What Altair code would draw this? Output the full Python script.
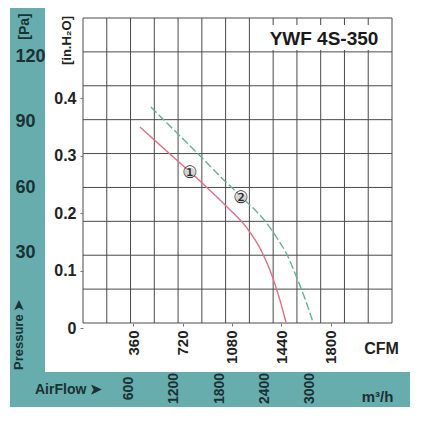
import altair as alt
import pandas as pd

# ---------------- data ----------------
cfm_ticks = [360, 720, 1080, 1440, 1800]
inh2o_ticks = [0, 0.1, 0.2, 0.3, 0.4]
pa_ticks = [30, 60, 90, 120]
m3h_ticks = [600, 1200, 1800, 2400, 3000]

curve1_cfm = [409, 628, 847, 1044, 1190, 1300, 1373, 1424, 1475]
curve1_inh2o = [0.350, 0.303, 0.256, 0.211, 0.174, 0.132, 0.091, 0.054, 0.010]
curve2_cfm = [489, 665, 847, 1008, 1191, 1323, 1409, 1490, 1548, 1614, 1672]
curve2_inh2o = [0.385, 0.343, 0.300, 0.261, 0.219, 0.186, 0.157, 0.124, 0.091, 0.051, 0.010]

label_text = ["①", "②"]
label_cfm = [774, 1146]
label_inh2o = [0.270, 0.226]

grid_cols = [0, 1, 2, 3, 4, 5, 6, 7, 8, 9, 10, 11, 12, 13]
grid_rows = [0, 1, 2, 3, 4, 5, 6, 7, 8, 9]

model_name = "YWF 4S-350"

# ---------------- styling ----------------
FONT = "Liberation Sans Narrow, Liberation Sans, Arial, sans-serif"
TEAL = "#67adae"
TEAL_TEXT = "#1b3133"
DARK = "#222222"
GRID = "#4a4a4a"
RED = "#de7088"
GREEN = "#66b392"

one = alt.Data(values=[{"k": 0}])

# ---------------- backgrounds ----------------
bg_teal = alt.Chart(one).mark_rect(fill=TEAL).encode(
    x=alt.value(-73), x2=alt.value(327), y=alt.value(-10), y2=alt.value(389)
)
bg_white = alt.Chart(one).mark_rect(fill="white").encode(
    x=alt.value(-38), x2=alt.value(327), y=alt.value(-10), y2=alt.value(354)
)

# ---------------- grid ----------------
gx_scale = alt.Scale(domain=[0, 13], nice=False, zero=False)
gy_scale = alt.Scale(domain=[-0.1475, 9], nice=False, zero=False)

vgrid = alt.Chart(pd.DataFrame({"gx": grid_cols})).transform_calculate(
    r0="0", r1="9"
).mark_rule(color=GRID, strokeWidth=1).encode(
    x=alt.X("gx:Q", scale=gx_scale, axis=None),
    y=alt.Y("r0:Q", scale=gy_scale, axis=None),
    y2="r1:Q",
)
hgrid = alt.Chart(pd.DataFrame({"gy": grid_rows})).transform_calculate(
    c0="0", c1="13"
).mark_rule(color=GRID, strokeWidth=1).encode(
    y=alt.Y("gy:Q", scale=gy_scale, axis=None),
    x=alt.X("c0:Q", scale=gx_scale, axis=None),
    x2="c1:Q",
)
grid = alt.layer(vgrid, hgrid)

title_box = alt.Chart(one).mark_rect(fill="white").encode(
    x=alt.value(179), x2=alt.value(308), y=alt.value(7), y2=alt.value(32)
)

# ---------------- curves ----------------
curves_df = pd.concat(
    [
        pd.DataFrame({"cfm": curve1_cfm, "inh2o": curve1_inh2o, "series": "1"}),
        pd.DataFrame({"cfm": curve2_cfm, "inh2o": curve2_inh2o, "series": "2"}),
    ],
    ignore_index=True,
)

x_cfm = alt.Scale(domain=[-7, 2249], nice=False, zero=False)
y_in = alt.Scale(domain=[0, 0.54], nice=False, zero=False)

x_axis = alt.Axis(
    orient="bottom", offset=-5, values=cfm_ticks, domain=False, grid=False,
    ticks=True, tickSize=3, tickColor="#777777", format="d",
    labelAngle=270, labelAlign="right", labelBaseline="middle", labelPadding=4,
    labelFont=FONT, labelFontWeight="bold", labelFontSize=15, labelColor=DARK,
    labelFlush=False, labelOverlap=False,
    title="CFM", titleX=298, titleY=25, titleAngle=0, titleAlign="center",
    titleBaseline="middle", titleFont=FONT, titleFontSize=16,
    titleFontWeight="bold", titleColor=DARK, zindex=1,
)
y_axis = alt.Axis(
    orient="left", values=inh2o_ticks, domain=False, grid=False,
    ticks=True, tickSize=3, tickColor="#777777",
    labelAlign="right", labelBaseline="middle", labelPadding=4,
    labelFont=FONT, labelFontWeight="bold", labelFontSize=16, labelColor=DARK,
    labelFlush=False, labelOverlap=False, format=".1~f",
    title="[in.H₂O]", titleX=-17, titleY=22, titleAngle=270, titleAlign="center",
    titleBaseline="middle", titleFont=FONT, titleFontSize=13,
    titleFontWeight="bold", titleColor=DARK, zindex=1,
)

lines = alt.Chart(curves_df).mark_line(interpolate="monotone", strokeWidth=1.4).encode(
    x=alt.X("cfm:Q", scale=x_cfm, axis=x_axis),
    y=alt.Y("inh2o:Q", scale=y_in, axis=y_axis),
    color=alt.Color("series:N", scale=alt.Scale(domain=["1", "2"], range=[RED, GREEN]), legend=None),
    strokeDash=alt.StrokeDash(
        "series:N", scale=alt.Scale(domain=["1", "2"], range=[[1, 0], [8, 3]]), legend=None
    ),
)

labels_df = pd.DataFrame({"cfm": label_cfm, "inh2o": label_inh2o, "txt": label_text})
circ_bg = alt.Chart(labels_df).mark_circle(size=120, color="#d4d4d4", opacity=1).encode(
    x=alt.X("cfm:Q", scale=x_cfm),
    y=alt.Y("inh2o:Q", scale=y_in),
)
circ = alt.Chart(labels_df).mark_text(
    font="DejaVu Sans", fontSize=17, color="#2a2a2a", align="center", baseline="middle"
).encode(
    x=alt.X("cfm:Q", scale=x_cfm),
    y=alt.Y("inh2o:Q", scale=y_in),
    text="txt:N",
)
main = alt.layer(lines, circ_bg, circ)

# ---------------- secondary axes ----------------
pa_layer = alt.Chart(pd.DataFrame({"pa": pa_ticks})).mark_point(opacity=0).encode(
    y=alt.Y(
        "pa:Q",
        scale=alt.Scale(domain=[-4.5, 137.5], nice=False, zero=False),
        axis=alt.Axis(
            orient="left", offset=68, values=pa_ticks, domain=False, grid=False,
            ticks=False, tickSize=0, labelPadding=0, format="d",
            labelAlign="left", labelBaseline="middle",
            labelFont=FONT, labelFontWeight="bold", labelFontSize=18, labelColor=TEAL_TEXT,
            labelFlush=False, labelOverlap=False,
            title="[Pa]", titleX=9, titleY=8, titleAngle=270, titleAlign="center",
            titleBaseline="middle", titleFont=FONT, titleFontSize=14,
            titleFontWeight="bold", titleColor=TEAL_TEXT, zindex=1,
        ),
    )
)

m3h_layer = alt.Chart(pd.DataFrame({"m3h": m3h_ticks})).mark_point(opacity=0).encode(
    x=alt.X(
        "m3h:Q",
        scale=alt.Scale(domain=[-4, 4089], nice=False, zero=False),
        axis=alt.Axis(
            orient="bottom", offset=60, values=m3h_ticks, domain=False, grid=False,
            ticks=False, tickSize=0, labelPadding=0, format="d",
            labelAngle=270, labelAlign="center", labelBaseline="middle",
            labelFont=FONT, labelFontWeight="bold", labelFontSize=14, labelColor=TEAL_TEXT,
            labelFlush=False, labelOverlap=False,
            title="m³/h", titleX=294, titleY=8, titleAngle=0, titleAlign="center",
            titleBaseline="middle", titleFont=FONT, titleFontSize=15,
            titleFontWeight="bold", titleColor=TEAL_TEXT, zindex=1,
        ),
    )
)

# ---------------- annotations ----------------
model_txt = alt.Chart(one).mark_text(
    text=model_name, font=FONT, fontSize=19, fontWeight="bold", color="#1a1a1a",
    align="center", baseline="middle",
).encode(x=alt.value(241), y=alt.value(21))

airflow_txt = alt.Chart(one).mark_text(
    text="AirFlow ➤", font=FONT, fontSize=14, fontWeight="bold", color=TEAL_TEXT,
    align="left", baseline="middle",
).encode(x=alt.value(-48), y=alt.value(372))

pressure_txt = alt.Chart(one).mark_text(
    text="Pressure ➤", font=FONT, fontSize=13, fontWeight="bold", color=TEAL_TEXT,
    align="left", baseline="middle", angle=270,
).encode(x=alt.value(-64), y=alt.value(352))

chart = alt.layer(
    bg_teal, bg_white, grid, title_box, main, pa_layer, m3h_layer,
    model_txt, airflow_txt, pressure_txt,
).resolve_scale(
    x="independent", y="independent"
).properties(
    width=309,
    height=310,
    padding={"left": 75, "top": 10, "right": 18, "bottom": 79},
    autosize=alt.AutoSizeParams(type="none"),
    background="white",
).configure_view(strokeWidth=0)

chart.save("out.html", embed_options={"renderer": "svg", "actions": False})
